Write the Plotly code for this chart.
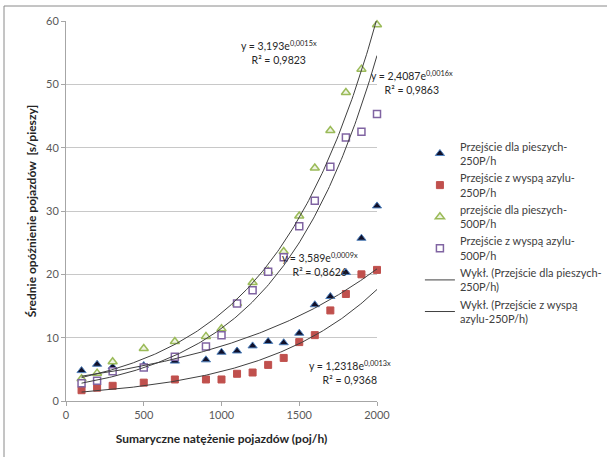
import numpy as np
import plotly.graph_objects as go

# ---- data ----
x_flow = [100, 200, 300, 500, 700, 900, 1000, 1100, 1200, 1300, 1400, 1500, 1600, 1700, 1800, 1900, 2000]

piesi_250 = [4.8, 5.8, 5.4, 5.6, 6.3, 6.5, 7.7, 7.9, 8.7, 9.4, 9.2, 10.7, 15.2, 16.5, 20.3, 25.7, 30.8]
wyspa_250 = [1.7, 2.1, 2.4, 2.9, 3.4, 3.4, 3.4, 4.3, 4.5, 5.7, 6.8, 9.3, 10.4, 14.3, 16.9, 20.0, 20.7]
piesi_500 = [3.5, 4.4, 6.2, 8.3, 9.4, 10.2, 11.4, 15.4, 18.7, 20.5, 23.6, 29.2, 36.8, 42.7, 48.7, 52.4, 59.4]
wyspa_500 = [2.8, 3.2, 4.7, 5.3, 7.0, 8.6, 10.4, 15.4, 17.5, 20.4, 22.7, 27.6, 31.6, 37.0, 41.6, 42.5, 45.3]

series_names = [
    "Przejście dla pieszych-<br>250P/h",
    "Przejście z wyspą azylu-<br>250P/h",
    "przejście dla pieszych-<br>500P/h",
    "Przejście z wyspą azylu-<br>500P/h",
]
trend_names = [
    "Wykł. (Przejście dla pieszych-<br>250P/h)",
    "Wykł. (Przejście z wyspą<br>azylu-250P/h)",
    "Wykł. (przejście dla pieszych-500P/h)",
    "Wykł. (Przejście z wyspą azylu-500P/h)",
]
# exponential trendline coefficients y = a*exp(b*x)
trend_a = [3.589, 1.2318, 3.193, 2.4087]
trend_b = [0.00088, 0.00133, 0.00147, 0.00156]
trend_labels = [
    "y = 3,589e<sup>0,0009x</sup><br>R² = 0,8626",
    "y = 1,2318e<sup>0,0013x</sup><br>R² = 0,9368",
    "y = 3,193e<sup>0,0015x</sup><br>R² = 0,9823",
    "y = 2,4087e<sup>0,0016x</sup><br>R² = 0,9863",
]
# label centres in paper coordinates
label_pos = [(0.818, 0.360), (0.913, 0.074), (0.685, 0.916), (1.112, 0.837)]

x_ticks = [0, 500, 1000, 1500, 2000]
y_ticks = [0, 10, 20, 30, 40, 50, 60]

FONT = "Lato"

fig = go.Figure()

marker_styles = [
    dict(symbol="triangle-up", size=8, color="#10102a", line=dict(color="#4f81bd", width=1)),
    dict(symbol="square", size=7, color="#c0504d", line=dict(color="#c0504d", width=1)),
    dict(symbol="triangle-up", size=8, color="#eef3e2", line=dict(color="#9bbb59", width=1.5)),
    dict(symbol="square", size=7, color="#ffffff", line=dict(color="#8064a2", width=1.5)),
]
for name, ys, ms in zip(series_names, [piesi_250, wyspa_250, piesi_500, wyspa_500], marker_styles):
    fig.add_trace(go.Scatter(x=x_flow, y=ys, mode="markers", name=name, marker=ms, cliponaxis=False))

xs = np.linspace(x_flow[0], x_flow[-1], 200)
for i, (a, b, nm) in enumerate(zip(trend_a, trend_b, trend_names)):
    fig.add_trace(go.Scatter(
        x=xs, y=a * np.exp(b * xs), mode="lines", name=nm, cliponaxis=False,
        line=dict(color="#404040", width=1), showlegend=(i < 2), hoverinfo="skip"))

for txt, (ax, ay) in zip(trend_labels, label_pos):
    fig.add_annotation(x=ax, y=ay, xref="paper", yref="paper", text=txt, showarrow=False,
                       xanchor="center", yanchor="middle",
                       align="center", font=dict(family=FONT, size=10.5, color="#262626"))

# chart border (top and left visible)
fig.add_shape(type="line", xref="paper", yref="paper",
              x0=(4 - 66) / 311, x1=(620 - 66) / 311, y0=(401 - 6) / 380, y1=(401 - 6) / 380,
              line=dict(color="#8a8a8a", width=1))
fig.add_shape(type="line", xref="paper", yref="paper",
              x0=(4 - 66) / 311, x1=(4 - 66) / 311, y0=(401 - 6) / 380, y1=(401 - 470) / 380,
              line=dict(color="#8a8a8a", width=1))

fig.update_layout(
    width=607, height=457,
    margin=dict(l=66, r=230, t=21, b=56, autoexpand=False),
    paper_bgcolor="white", plot_bgcolor="white",
    font=dict(family=FONT, size=11, color="#595959"),
    showlegend=True,
    legend=dict(x=1.138, y=0.706, xanchor="left", yanchor="top",
                font=dict(family=FONT, size=11, color="#404040"),
                bgcolor="rgba(0,0,0,0)", itemwidth=30, tracegroupgap=0),
    xaxis=dict(range=[0, 2000], tickvals=x_ticks, showgrid=False, zeroline=False,
               showline=True, linecolor="#a6a6a6", linewidth=1, automargin=False,
               ticks="outside", ticklen=4, tickcolor="#a6a6a6",
               tickfont=dict(family=FONT, size=11, color="#595959"),
               title=dict(text="<b>Sumaryczne natężenie pojazdów (poj/h)</b>",
                          font=dict(family=FONT, size=12, color="#262626"), standoff=14)),
    yaxis=dict(range=[0, 60], tickvals=y_ticks, showgrid=True, gridcolor="#c8c8c8", gridwidth=1,
               zeroline=False, showline=True, linecolor="#a6a6a6", linewidth=1, automargin=False,
               ticks="outside", ticklen=4, tickcolor="#a6a6a6",
               tickfont=dict(family=FONT, size=11, color="#595959"),
               title=dict(text="<b>Średnie opóźnienie pojazdów  [s/pieszy]</b>",
                          font=dict(family=FONT, size=12, color="#262626"), standoff=6)),
)

fig.write_html("out.html", config={"displayModeBar": False},
               post_script="document.body.style.margin='0px';")
